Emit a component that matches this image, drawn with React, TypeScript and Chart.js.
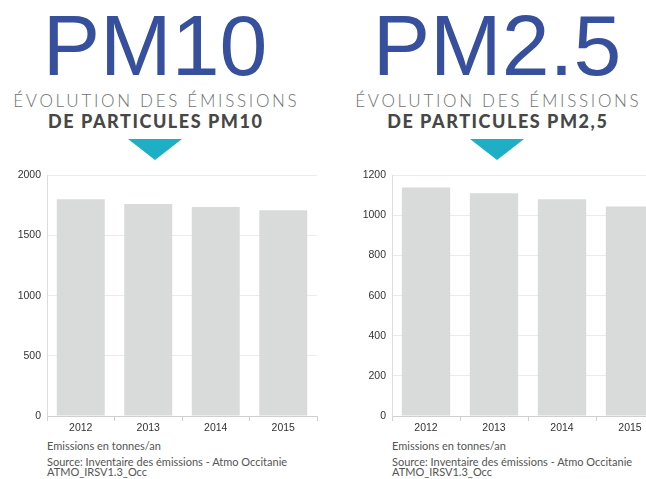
import React, { useEffect, useRef } from "react";
import { Chart, registerables } from "chart.js";

Chart.register(...registerables);

const years = ["2012", "2013", "2014", "2015"];
const pm10Values = [1802, 1761, 1737, 1709];
const pm25Values = [1139, 1111, 1080, 1045];
const pm10Max = 2000;
const pm10Step = 500;
const pm25Max = 1200;
const pm25Step = 200;

const BAR_COLOR = "#d9dada";

function BarChart(props: {
  labels: string[];
  values: number[];
  max: number;
  step: number;
  left: number;
  top: number;
  width: number;
  height: number;
}) {
  const ref = useRef<HTMLCanvasElement | null>(null);
  useEffect(() => {
    if (!ref.current) return;
    const chart = new Chart(ref.current, {
      type: "bar",
      data: {
        labels: props.labels,
        datasets: [
          {
            data: props.values,
            backgroundColor: BAR_COLOR,
            borderWidth: 0,
            barPercentage: 0.71,
            categoryPercentage: 1.0,
          },
        ],
      },
      options: {
        responsive: false,
        animation: false,
        devicePixelRatio: 1,
        layout: { padding: { top: 10, right: 8, left: 0, bottom: 0 } },
        plugins: {
          legend: { display: false },
          tooltip: { enabled: false },
          title: { display: false },
        },
        scales: {
          x: {
            grid: {
              offset: true,
              drawOnChartArea: false,
              drawTicks: true,
              tickLength: 5,
              color: "#d0d0d0",
            },
            border: { display: true, color: "#cfcfcf" },
            ticks: {
              color: "#333333",
              font: { family: "Liberation Sans", size: 10.5 },
              padding: 1,
              maxRotation: 0,
            },
            afterFit: (s: any) => {
              s.height = 22;
            },
          },
          y: {
            min: 0,
            max: props.max,
            grid: {
              color: "#ebebeb",
              drawTicks: false,
              lineWidth: 1,
            },
            border: { display: true, color: "#dcdcdc" },
            ticks: {
              stepSize: props.step,
              color: "#333333",
              font: { family: "Liberation Sans", size: 10.5 },
              padding: 6,
              callback: (v: any) => String(v),
            },
            afterFit: (s: any) => {
              s.width = 47;
            },
          },
        },
      },
    });
    return () => chart.destroy();
  }, []);
  return (
    <canvas
      ref={ref}
      width={props.width}
      height={props.height}
      style={{
        position: "absolute",
        left: props.left,
        top: props.top,
        width: props.width,
        height: props.height,
      }}
    />
  );
}

function Header(props: { center: number; big: string; sub: string }) {
  const box = (top: number): React.CSSProperties => ({
    position: "absolute",
    left: props.center - 200,
    width: 400,
    top,
    textAlign: "center",
    whiteSpace: "nowrap",
  });
  return (
    <>
      <div
        style={{
          ...box(2),
          fontFamily: "Liberation Sans, Arial, sans-serif",
          fontSize: 86,
          lineHeight: "86px",
          color: "#37509e",
        }}
      >
        {props.big}
      </div>
      <div
        style={{
          ...box(91),
          fontFamily: "Lato, sans-serif",
          fontWeight: 300,
          fontSize: 17,
          lineHeight: "20px",
          letterSpacing: "2.7px",
          textIndent: "2.7px",
          color: "#707070",
        }}
      >
        ÉVOLUTION DES ÉMISSIONS
      </div>
      <div
        style={{
          ...box(110),
          fontFamily: "Lato, sans-serif",
          fontWeight: 900,
          fontSize: 18,
          lineHeight: "22px",
          letterSpacing: "1.55px",
          textIndent: "1.55px",
          color: "#474747",
        }}
      >
        {props.sub}
      </div>
      <div
        style={{
          position: "absolute",
          left: props.center - 27,
          top: 139,
          width: 0,
          height: 0,
          borderLeft: "27px solid transparent",
          borderRight: "27px solid transparent",
          borderTop: "21px solid #1eafc7",
        }}
      />
    </>
  );
}

function Footer(props: { left: number }) {
  const line = (top: number): React.CSSProperties => ({
    position: "absolute",
    left: props.left,
    top,
    whiteSpace: "nowrap",
    fontFamily: "Lato, sans-serif",
    fontWeight: 400,
    fontSize: 11,
    lineHeight: "13px",
    color: "#555555",
  });
  return (
    <>
      <div style={line(439)}>Emissions en tonnes/an</div>
      <div style={line(455)}>Source: Inventaire des émissions - Atmo Occitanie</div>
      <div style={line(465)}>ATMO_IRSV1.3_Occ</div>
    </>
  );
}

export default function App() {
  return (
    <div
      style={{
        position: "fixed",
        left: 0,
        top: 0,
        width: 646,
        height: 479,
        overflow: "hidden",
        background: "#ffffff",
      }}
    >
      <Header center={155} big="PM10" sub="DE PARTICULES PM10" />
      <Header center={497} big="PM2.5" sub="DE PARTICULES PM2,5" />
      <BarChart
        labels={years}
        values={pm10Values}
        max={pm10Max}
        step={pm10Step}
        left={0}
        top={163}
        width={325}
        height={275}
      />
      <BarChart
        labels={years}
        values={pm25Values}
        max={pm25Max}
        step={pm25Step}
        left={345}
        top={163}
        width={327}
        height={275}
      />
      <Footer left={47} />
      <Footer left={392} />
    </div>
  );
}
